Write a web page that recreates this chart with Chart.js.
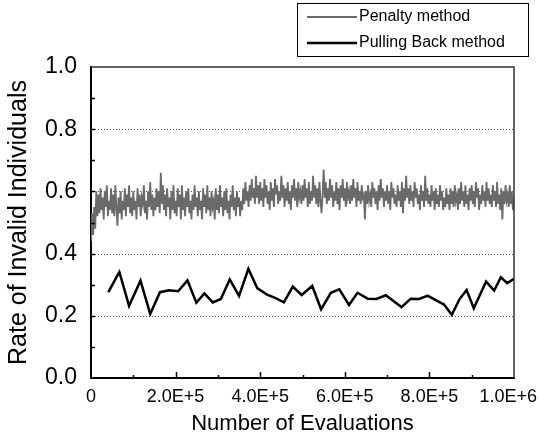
<!DOCTYPE html>
<html>
<head>
<meta charset="utf-8">
<script src="https://cdn.jsdelivr.net/npm/chart.js@4.4.1/dist/chart.umd.min.js"></script>
<style>
  body { margin: 0; background: #fff; }
  #wrap { width: 539px; height: 441px; }
</style>
</head>
<body>
<div id="wrap"><canvas id="rateChart" width="539" height="441"></canvas></div>
<script>
// Rate of invalid individuals vs number of evaluations

var seriesNames = ['Penalty method', 'Pulling Back method'];
var xTickLabels = ['0', '2.0E+5', '4.0E+5', '6.0E+5', '8.0E+5', '1.0E+6'];
var yTickLabels = ['0.0', '0.2', '0.4', '0.6', '0.8', '1.0'];
var gridValues = [0.2, 0.4, 0.6, 0.8];

// penalty method, sampled every 2500 evaluations (one row = 50000)
var penaltyStep = 2500;
var penaltyRate = [
  0.44, 0.53, 0.46, 0.55, 0.48, 0.60, 0.52, 0.59, 0.53, 0.61, 0.54, 0.58, 0.51, 0.60, 0.55, 0.62, 0.52, 0.57, 0.54, 0.61,
  0.53, 0.59, 0.52, 0.62, 0.55, 0.49, 0.58, 0.53, 0.60, 0.51, 0.57, 0.54, 0.61, 0.52, 0.59, 0.55, 0.62, 0.53, 0.58, 0.52,
  0.60, 0.54, 0.57, 0.51, 0.61, 0.55, 0.59, 0.52, 0.58, 0.56, 0.62, 0.53, 0.57, 0.51, 0.60, 0.55, 0.63, 0.54, 0.59, 0.52,
  0.58, 0.54, 0.61, 0.55, 0.60, 0.53, 0.66, 0.56, 0.62, 0.54, 0.59, 0.52, 0.61, 0.55, 0.58, 0.51, 0.60, 0.54, 0.62, 0.53,
  0.57, 0.52, 0.61, 0.55, 0.59, 0.51, 0.62, 0.54, 0.58, 0.52, 0.60, 0.55, 0.61, 0.53, 0.57, 0.51, 0.59, 0.54, 0.62, 0.55,
  0.58, 0.52, 0.60, 0.54, 0.57, 0.51, 0.61, 0.55, 0.59, 0.53, 0.62, 0.54, 0.58, 0.52, 0.60, 0.55, 0.57, 0.51, 0.61, 0.54,
  0.59, 0.53, 0.62, 0.55, 0.58, 0.52, 0.60, 0.54, 0.61, 0.53, 0.57, 0.51, 0.59, 0.55, 0.62, 0.54, 0.58, 0.52, 0.60, 0.55,
  0.58, 0.52, 0.57, 0.54, 0.61, 0.56, 0.63, 0.57, 0.60, 0.55, 0.62, 0.57, 0.64, 0.58, 0.61, 0.56, 0.65, 0.58, 0.62, 0.56,
  0.63, 0.57, 0.61, 0.55, 0.64, 0.58, 0.62, 0.56, 0.60, 0.54, 0.63, 0.57, 0.61, 0.55, 0.64, 0.59, 0.62, 0.56, 0.60, 0.57,
  0.65, 0.58, 0.62, 0.55, 0.61, 0.57, 0.63, 0.56, 0.60, 0.54, 0.62, 0.58, 0.64, 0.57, 0.61, 0.55, 0.63, 0.58, 0.60, 0.56,
  0.62, 0.57, 0.64, 0.58, 0.61, 0.55, 0.63, 0.56, 0.60, 0.57, 0.65, 0.58, 0.62, 0.56, 0.61, 0.55, 0.63, 0.57, 0.53, 0.59,
  0.67, 0.58, 0.63, 0.56, 0.61, 0.57, 0.64, 0.58, 0.62, 0.55, 0.60, 0.57, 0.63, 0.56, 0.61, 0.54, 0.62, 0.58, 0.64, 0.57,
  0.61, 0.55, 0.63, 0.58, 0.60, 0.56, 0.62, 0.57, 0.64, 0.58, 0.61, 0.55, 0.63, 0.57, 0.60, 0.56, 0.62, 0.58, 0.59, 0.51,
  0.60, 0.56, 0.62, 0.57, 0.59, 0.55, 0.63, 0.58, 0.61, 0.56, 0.60, 0.54, 0.62, 0.57, 0.64, 0.58, 0.61, 0.55, 0.60, 0.57,
  0.62, 0.56, 0.60, 0.54, 0.63, 0.58, 0.61, 0.56, 0.59, 0.55, 0.62, 0.57, 0.60, 0.55, 0.63, 0.53, 0.61, 0.57, 0.65, 0.58,
  0.61, 0.56, 0.62, 0.57, 0.60, 0.55, 0.63, 0.58, 0.61, 0.56, 0.59, 0.54, 0.62, 0.57, 0.60, 0.55, 0.65, 0.57, 0.61, 0.56,
  0.59, 0.55, 0.62, 0.57, 0.60, 0.54, 0.61, 0.56, 0.59, 0.55, 0.62, 0.57, 0.60, 0.54, 0.58, 0.55, 0.61, 0.56, 0.59, 0.54,
  0.61, 0.56, 0.60, 0.55, 0.62, 0.57, 0.59, 0.54, 0.61, 0.56, 0.63, 0.57, 0.60, 0.55, 0.62, 0.56, 0.59, 0.54, 0.61, 0.57,
  0.62, 0.56, 0.60, 0.55, 0.63, 0.58, 0.61, 0.54, 0.59, 0.56, 0.62, 0.57, 0.60, 0.55, 0.63, 0.57, 0.61, 0.56, 0.59, 0.55,
  0.62, 0.57, 0.60, 0.55, 0.63, 0.56, 0.59, 0.54, 0.61, 0.51, 0.60, 0.56, 0.62, 0.57, 0.59, 0.55, 0.62, 0.56, 0.60, 0.54,
  0.58
];

// pulling back method
var pullingEvals = [
  41000, 67000, 90000, 117000, 140000, 163000, 184000, 206000, 228000, 249000,
  268000, 288000, 307000, 328000, 350000, 372000, 393000, 415000, 435000, 456000,
  477000, 498000, 523000, 544000, 567000, 587000, 610000, 630000, 654000, 675000,
  697000, 734000, 756000, 776000, 796000, 817000, 834000, 853000, 871000, 888000,
  905000, 934000, 953000, 969000, 984000, 1000000
];
var pullingRate = [
  0.276, 0.341, 0.232, 0.313, 0.206, 0.276, 0.282, 0.279, 0.314, 0.242,
  0.272, 0.243, 0.254, 0.317, 0.264, 0.351, 0.289, 0.269, 0.258, 0.243,
  0.294, 0.267, 0.296, 0.221, 0.274, 0.285, 0.235, 0.274, 0.255, 0.254,
  0.266, 0.228, 0.255, 0.254, 0.265, 0.249, 0.237, 0.203, 0.253, 0.283,
  0.224, 0.310, 0.281, 0.324, 0.305, 0.319
];

var fontFamily = '"Liberation Sans", Arial, sans-serif';

var penaltyPoints = penaltyRate.map(function (v, i) {
  return { x: i * penaltyStep, y: v };
});
var pullingPoints = pullingEvals.map(function (e, i) {
  return { x: e, y: pullingRate[i] };
});

function noPadding(s) {
  s.paddingLeft = 0;
  s.paddingRight = 0;
  s.paddingTop = 0;
  s.paddingBottom = 0;
}

// dotted grid lines under the data
var gridPlugin = {
  id: 'dottedGrid',
  beforeDatasetsDraw: function (chart) {
    var c = chart.ctx;
    var a = chart.chartArea;
    var ys = chart.scales.y;
    c.save();
    c.strokeStyle = '#555';
    c.lineWidth = 1;
    c.setLineDash([1, 2]);
    gridValues.forEach(function (v) {
      var py = Math.round(ys.getPixelForValue(v)) + 0.5;
      c.beginPath();
      c.moveTo(a.left + 1, py);
      c.lineTo(a.right, py);
      c.stroke();
    });
    c.restore();
  }
};

// frame, inward ticks, x labels and boxed legend
var framePlugin = {
  id: 'frame',
  afterDatasetsDraw: function (chart) {
    var c = chart.ctx;
    var a = chart.chartArea;
    var xs = chart.scales.x;
    var ys = chart.scales.y;
    c.save();
    c.strokeStyle = '#333';
    c.lineWidth = 1.5;
    c.beginPath();
    c.moveTo(a.left, a.top);
    c.lineTo(a.right, a.top);
    c.lineTo(a.right, a.bottom);
    c.stroke();
    c.strokeStyle = '#000';
    c.lineWidth = 1.5;
    for (var i = 1; i < 10; i++) {
      var py = Math.round(ys.getPixelForValue(i / 10)) + 0.5;
      c.beginPath();
      c.moveTo(a.left, py);
      c.lineTo(a.left + 4, py);
      c.stroke();
      var px = Math.round(xs.getPixelForValue(i * 100000)) + 0.5;
      c.beginPath();
      c.moveTo(px, a.bottom);
      c.lineTo(px, a.bottom - (i % 2 === 0 ? 6 : 3));
      c.stroke();
    }
    // x tick labels, last one kept inside the canvas
    c.font = '18px ' + fontFamily;
    c.fillStyle = '#000';
    c.textBaseline = 'middle';
    xTickLabels.forEach(function (t, j) {
      var cx = xs.getPixelForValue(j * 200000);
      var w = c.measureText(t).width;
      var left = Math.min(cx - w / 2, chart.width - 2 - w);
      c.textAlign = 'left';
      c.fillText(t, left, a.bottom + 19);
    });
    // legend
    var lx = 297.5, ly = 3.5, lw = 231, lh = 53;
    c.fillStyle = '#fff';
    c.fillRect(lx, ly, lw, lh);
    c.strokeStyle = '#000';
    c.lineWidth = 1;
    c.strokeRect(lx, ly, lw, lh);
    var ds = chart.data.datasets;
    var rows = [17, 43];
    c.font = '16px ' + fontFamily;
    c.textAlign = 'left';
    for (var k = 0; k < ds.length; k++) {
      c.strokeStyle = ds[k].borderColor;
      c.lineWidth = k === 0 ? 2 : 2.5;
      c.beginPath();
      c.moveTo(307, rows[k]);
      c.lineTo(357, rows[k]);
      c.stroke();
      c.fillStyle = '#000';
      c.fillText(ds[k].label, 359, rows[k]);
    }
    c.restore();
  }
};

var ctx = document.getElementById('rateChart').getContext('2d');

var rateChart = new Chart(ctx, {
  type: 'line',
  data: {
    datasets: [{
      label: seriesNames[0],
      data: penaltyPoints,
      borderColor: '#6a6a6a',
      borderWidth: 1.8,
      pointRadius: 0,
      tension: 0,
      fill: false
    }, {
      label: seriesNames[1],
      data: pullingPoints,
      borderColor: '#000',
      borderWidth: 2.5,
      pointRadius: 0,
      tension: 0,
      fill: false
    }]
  },
  options: {
    responsive: false,
    animation: false,
    layout: {
      autoPadding: false,
      padding: { left: 0, top: 67, right: 25, bottom: 0 }
    },
    plugins: {
      legend: { display: false },
      tooltip: { enabled: false }
    },
    scales: {
      x: {
        type: 'linear',
        min: 0,
        max: 1000000,
        afterFit: function (s) { s.height = 63; noPadding(s); },
        border: { color: '#000', width: 2 },
        grid: { display: false, drawTicks: false },
        ticks: {
          stepSize: 200000,
          padding: 10,
          maxRotation: 0,
          color: 'rgba(0,0,0,0)',
          font: { family: fontFamily, size: 18 },
          callback: function (v) {
            return xTickLabels[Math.round(v / 200000)];
          }
        },
        title: {
          display: true,
          text: 'Number of Evaluations',
          color: '#000',
          font: { family: fontFamily, size: 22 },
          padding: { top: 0, bottom: 4 }
        }
      },
      y: {
        min: 0,
        max: 1,
        afterFit: function (s) { s.width = 91; noPadding(s); },
        border: { color: '#000', width: 2 },
        grid: { display: false, drawTicks: false },
        ticks: {
          stepSize: 0.2,
          padding: 14,
          color: '#000',
          font: { family: fontFamily, size: 23 },
          callback: function (v) {
            return yTickLabels[Math.round(v * 5)];
          }
        },
        title: {
          display: true,
          text: 'Rate of Invalid Individuals',
          color: '#000',
          font: { family: fontFamily, size: 25 },
          padding: { top: 4, bottom: 0 }
        }
      }
    }
  },
  plugins: [gridPlugin, framePlugin]
});
</script>
</body>
</html>
